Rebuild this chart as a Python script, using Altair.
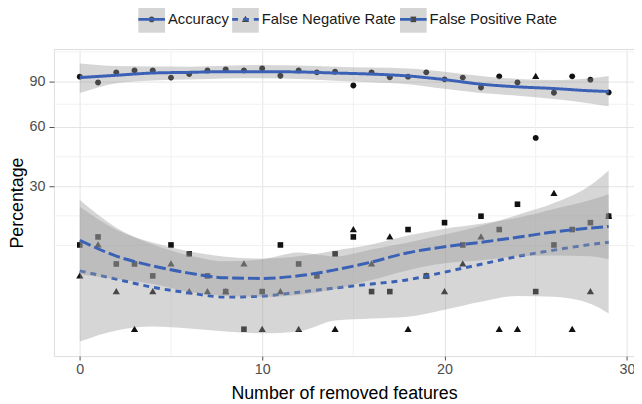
import altair as alt
import pandas as pd

FONT = "Liberation Sans"
BLUE = "#3a61b5"

series_names = ["Accuracy", "False Negative Rate", "False Positive Rate"]

# observed points, x = 0..29
x_obs = list(range(30))
accuracy = [93.6, 89.3, 96.8, 98.3, 98.3, 92.9, 95.6, 98.3, 99.0, 98.3,
            99.8, 94.3, 98.3, 96.8, 97.3, 87.1, 96.8, 93.1, 93.6, 96.8,
            91.6, 92.9, 85.7, 93.8, 89.3, 53.7, 82.0, 93.8, 91.4, 82.3]
false_neg = [4.17, 10.42, 2.08, 0.0, 2.08, 6.25, 2.08, 2.08, 2.08, 6.25,
             0.0, 2.08, 0.0, None, 0.0, 14.58, 6.25, 12.5, 0.0, 4.17,
             2.08, 6.25, 12.5, 0.0, 0.0, 93.75, 27.08, 0.0, 2.08, 18.75]
false_pos = [10.42, 12.5, 6.25, 6.25, 4.17, 10.42, 8.33, 4.17, 2.08, 0.0,
             2.08, 10.42, 6.25, 4.17, 8.33, 12.5, 2.08, 2.08, 14.58, 4.17,
             16.67, 10.42, 18.75, 14.58, 22.92, 2.08, 10.42, 14.58, 16.67, 18.75]

# smoothed curves and confidence bands
x_fit = [0, 2, 4, 6, 8, 10, 12, 14, 16, 18, 20, 22, 24, 26, 28, 29]
acc_fit = [92.9, 94.6, 96.3, 96.8, 97.3, 97.3, 97.1, 96.3, 95.5, 94.1, 91.4, 88.1, 86.2, 85.0, 83.4, 82.9]
acc_hi = [103.6, 101.6, 101.2, 101.1, 101.8, 102.4, 102.0, 101.1, 100.5, 99.8, 97.3, 94.1, 91.9, 91.2, 92.5, 94.1]
acc_lo = [81.8, 88.8, 90.8, 91.5, 92.2, 92.4, 91.8, 90.5, 89.5, 88.1, 84.8, 81.8, 80.0, 77.7, 74.8, 72.9]

fnr_fit = [5.00, 3.69, 2.58, 1.94, 1.51, 1.61, 2.01, 2.50, 3.00, 3.59, 4.78, 6.19, 7.79, 9.18, 10.53, 11.10]
fnr_hi = [24.47, 15.12, 10.53, 8.00, 6.77, 7.17, 8.66, 7.79, 9.34, 11.03, 13.13, 15.71, 19.18, 23.36, 30.41, 36.99]
fnr_lo = [-0.22, -0.002, 0.011, 0.001, -0.007, -0.025, -0.007, 0.11, 0.17, 0.23, 0.56, 1.11, 1.63, 1.54, 0.95, 0.36]

fpr_fit = [11.61, 7.85, 5.88, 4.62, 3.88, 3.79, 4.19, 5.17, 6.63, 8.59, 9.97, 11.10, 12.40, 13.88, 15.03, 15.50]
fpr_hi = [22.03, 14.54, 11.03, 8.88, 7.73, 7.31, 7.79, 9.11, 10.53, 12.86, 14.82, 16.32, 18.20, 21.22, 24.47, 26.77]
fpr_lo = [4.45, 3.69, 3.00, 2.04, 1.63, 1.54, 1.73, 2.38, 3.55, 5.12, 6.38, 6.97, 7.79, 8.00, 7.79, 7.17]

x_ticks = [0, 10, 20, 30]
y_ticks = [30, 60, 90]
x_minor = [5, 15, 25]
y_minor = [10.29, 18.86, 43.71, 74.24, 112.8]

# ---- tables ----
rows = []
for name, vals in zip(series_names, [accuracy, false_neg, false_pos]):
    for xv, v in zip(x_obs, vals):
        if v is not None:
            rows.append({"x": xv, "value": v, "kC": name})
pts = pd.DataFrame(rows)

frows = []
for name, f, lo, hi in zip(series_names, [acc_fit, fnr_fit, fpr_fit],
                           [acc_lo, fnr_lo, fpr_lo], [acc_hi, fnr_hi, fpr_hi]):
    for xv, a, b, c in zip(x_fit, f, lo, hi):
        frows.append({"x": xv, "fit": a, "lo": b, "hi": c, "kA": name, "kB": name})
fits = pd.DataFrame(frows)

xscale = alt.Scale(domain=[-1.42, 30.39], nice=False, zero=False)
yscale = alt.Scale(type="sqrt", domain=[-1.058, 115.2], nice=False, zero=False)

xaxis = alt.Axis(values=x_ticks, format="d", title="Number of removed features",
                 grid=True, gridColor="#e4e4e4", gridWidth=1, domain=False,
                 tickSize=4, tickColor="#4d4d4d", labelPadding=3,
                 labelFont=FONT, labelFontSize=14.5, labelColor="#4d4d4d",
                 titleFont=FONT, titleFontSize=18, titleFontWeight="normal",
                 titleColor="#000000", titleY=37.5, titleBaseline="middle")
yaxis = alt.Axis(values=y_ticks, format="d", title="Percentage",
                 grid=True, gridColor="#e4e4e4", gridWidth=1, domain=False,
                 tickSize=5, tickColor="#4d4d4d", labelPadding=4,
                 labelFont=FONT, labelFontSize=14.5, labelColor="#4d4d4d",
                 titleFont=FONT, titleFontSize=18, titleFontWeight="normal",
                 titleColor="#000000", titleX=-37, titleY=155.5,
                 titleBaseline="middle", titleAngle=-90)

# one legend entry per series, placed side by side like the original key row
key_x = [84, 179, 349]
KEY_Y = -45
leg_common = dict(orient="none", legendY=KEY_Y, direction="horizontal",
                  title=None, padding=0, symbolSize=729, symbolStrokeWidth=3,
                  labelFont=FONT, labelFontSize=15, labelOffset=1.5)

circle = "M0.222,0A0.222,0.222,0,1,1,-0.222,0A0.222,0.222,0,1,1,0.222,0Z"
triangle = "M0,-0.27L0.27,0.2L-0.27,0.2Z"
square = "M-0.21,-0.21H0.21V0.21H-0.21Z"
shapes = [circle, triangle, square]
dashes = [[1, 0], [6, 5], [12, 4]]

minor_x_layer = alt.Chart(pd.DataFrame({"x": x_minor})).mark_rule(
    color="#f1f1f1", strokeWidth=1).encode(x=alt.X("x:Q", scale=xscale, axis=xaxis))
minor_y_layer = alt.Chart(pd.DataFrame({"y": y_minor})).mark_rule(
    color="#f1f1f1", strokeWidth=1).encode(y=alt.Y("y:Q", scale=yscale, axis=yaxis))


def point_layer(i, name):
    leg = alt.Legend(legendX=key_x[i], symbolStrokeColor="transparent",
                     labelExpr="''", zindex=1, **leg_common)
    return alt.Chart(pts).transform_filter(alt.datum.kC == name).mark_point(
        filled=True, size=729, color="#111111", opacity=1).encode(
        x=alt.X("x:Q", scale=xscale, axis=xaxis),
        y=alt.Y("value:Q", scale=yscale, axis=yaxis),
        shape=alt.Shape("kC:N", scale=alt.Scale(range=[shapes[i]]), legend=leg),
    )


def ribbon(i, name):
    leg = alt.Legend(legendX=key_x[i], symbolType="square", symbolStrokeColor="transparent",
                     symbolOpacity=0.4, labelColor="#1a1a1a", zindex=2, **leg_common)
    return alt.Chart(fits).transform_filter(alt.datum.kA == name).mark_area(
        opacity=0.4, interpolate="monotone").encode(
        x=alt.X("x:Q", scale=xscale, axis=xaxis),
        y=alt.Y("lo:Q", scale=yscale, axis=yaxis),
        y2="hi:Q",
        fill=alt.Fill("kA:N", scale=alt.Scale(range=["#999999"]), legend=leg),
    )


def curve(i, name):
    leg = alt.Legend(legendX=key_x[i], symbolType="stroke", symbolStrokeColor=BLUE,
                     labelExpr="''", zindex=3, **leg_common)
    return alt.Chart(fits).transform_filter(alt.datum.kB == name).mark_line(
        color=BLUE, strokeWidth=3, interpolate="monotone").encode(
        x=alt.X("x:Q", scale=xscale, axis=xaxis),
        y=alt.Y("fit:Q", scale=yscale, axis=yaxis),
        strokeDash=alt.StrokeDash("kB:N", scale=alt.Scale(range=[dashes[i]]), legend=leg),
    )


layers = [minor_x_layer, minor_y_layer]
layers += [point_layer(i, n) for i, n in enumerate(series_names)]
for i, n in enumerate(series_names):
    layers += [ribbon(i, n), curve(i, n)]

chart = alt.layer(*layers).resolve_scale(
    shape="independent", fill="independent", strokeDash="independent"
).properties(
    width=587.5, height=311,
    autosize=alt.AutoSizeParams(type="none"),
    padding={"left": 46.5, "top": 39, "right": 0, "bottom": 46},
).configure_view(stroke="#8c8c8c", strokeWidth=1, fill="white").configure(
    background="white")

chart.save("out.html", embed_options={"renderer": "svg", "actions": False})
